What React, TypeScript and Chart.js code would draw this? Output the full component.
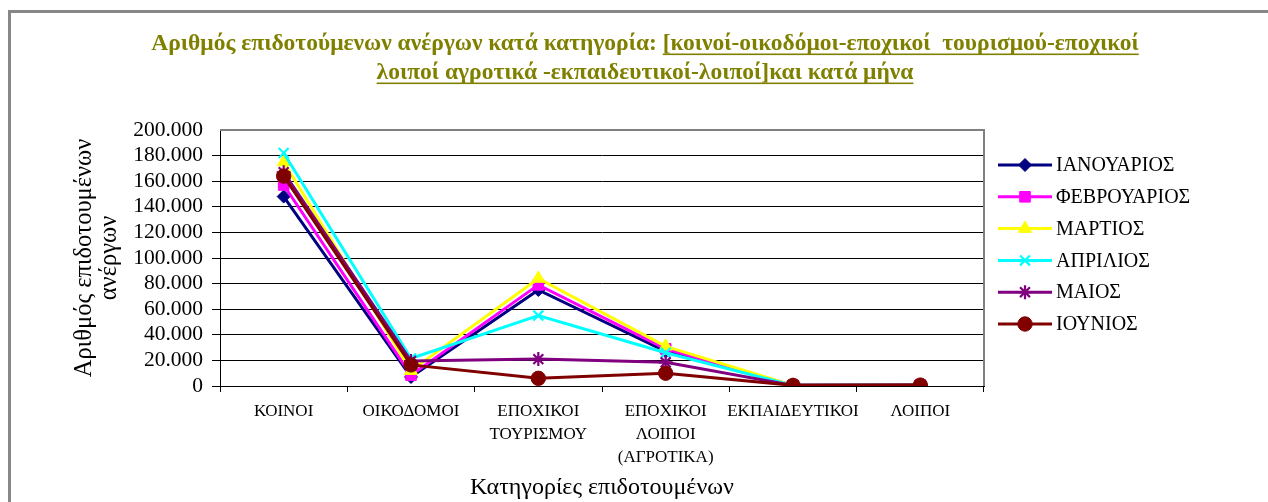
import React, { useEffect, useRef } from 'react';
import { Chart, registerables } from 'chart.js';
import { drawPoint } from 'chart.js/helpers';

Chart.register(...registerables);

// ---------- data ----------
const categories: string[][] = [
  ['ΚΟΙΝΟΙ'],
  ['ΟΙΚΟΔΟΜΟΙ'],
  ['ΕΠΟΧΙΚΟΙ', 'ΤΟΥΡΙΣΜΟΥ'],
  ['ΕΠΟΧΙΚΟΙ', 'ΛΟΙΠΟΙ', '(ΑΓΡΟΤΙΚΑ)'],
  ['ΕΚΠΑΙΔΕΥΤΙΚΟΙ'],
  ['ΛΟΙΠΟΙ'],
];
const seriesNames = ['ΙΑΝΟΥΑΡΙΟΣ', 'ΦΕΒΡΟΥΑΡΙΟΣ', 'ΜΑΡΤΙΟΣ', 'ΑΠΡΙΛΙΟΣ', 'ΜΑΙΟΣ', 'ΙΟΥΝΙΟΣ'];
const january = [148000, 7000, 75000, 27000, 500, 700];
const february = [157000, 8500, 79000, 29000, 500, 700];
const march = [175000, 12000, 84000, 31000, 500, 700];
const april = [182000, 21500, 55000, 26000, 500, 700];
const may = [167000, 19500, 21000, 18500, 500, 700];
const june = [164000, 16500, 6000, 10000, 500, 700];
const yMin = 0;
const yMax = 200000;
const yStep = 20000;

const titleLine1Plain = 'Αριθμός επιδοτούμενων ανέργων κατά κατηγορία: ';
const titleLine1Underlined = '[κοινοί-οικοδόμοι-εποχικοί  τουρισμού-εποχικοί';
const titleLine2Underlined = 'λοιποί αγροτικά -εκπαιδευτικοί-λοιποί]και κατά μήνα';
const yAxisTitle = ['Αριθμός επιδοτουμένων', 'ανέργων'];
const xAxisTitle = 'Κατηγορίες επιδοτουμένων';

// ---------- styles ----------
const SERIF = '"Liberation Serif", "DejaVu Serif", serif';
const seriesStyles = [
  { color: '#000080', pointStyle: 'rectRot', radius: 6.5, pbw: 1 },
  { color: '#FF00FF', pointStyle: 'rect', radius: 7.5, pbw: 1 },
  { color: '#FFFF00', pointStyle: 'triangle', radius: 7.5, pbw: 1 },
  { color: '#00FFFF', pointStyle: 'crossRot', radius: 7, pbw: 2.2 },
  { color: '#800080', pointStyle: 'star', radius: 7, pbw: 2.2 },
  { color: '#800000', pointStyle: 'circle', radius: 7.2, pbw: 1 },
];
const seriesValues = [january, february, march, april, may, june];

function fmt(v: number): string {
  return String(v).replace(/\B(?=(\d{3})+(?!\d))/g, '.');
}

const decorPlugin = {
  id: 'decor',
  beforeDraw(chart: any) {
    const ctx = chart.ctx as CanvasRenderingContext2D;
    ctx.save();
    ctx.fillStyle = '#ffffff';
    ctx.fillRect(0, 0, chart.width, chart.height);
    // outer frame (left + top visible)
    ctx.fillStyle = '#878787';
    ctx.fillRect(8, 10, chart.width, 3);
    ctx.fillRect(8, 10, 3, chart.height);
    ctx.restore();
  },
  beforeDatasetsDraw(chart: any) {
    const ctx = chart.ctx as CanvasRenderingContext2D;
    const a = chart.chartArea;
    ctx.save();
    ctx.strokeStyle = '#808080';
    ctx.lineWidth = 2;
    ctx.beginPath();
    ctx.moveTo(a.left, a.top);
    ctx.lineTo(a.right, a.top);
    ctx.lineTo(a.right, a.bottom);
    ctx.stroke();
    ctx.restore();
  },
  afterDraw(chart: any) {
    const ctx = chart.ctx as CanvasRenderingContext2D;
    ctx.save();
    // ---- title ----
    ctx.font = `bold 23.5px ${SERIF}`;
    ctx.fillStyle = '#808000';
    ctx.textBaseline = 'alphabetic';
    ctx.textAlign = 'left';
    const cx = 645;
    const wA = ctx.measureText(titleLine1Plain).width;
    const wB = ctx.measureText(titleLine1Underlined).width;
    const x1 = cx - (wA + wB) / 2;
    const y1 = 50;
    ctx.fillText(titleLine1Plain, x1, y1);
    ctx.fillText(titleLine1Underlined, x1 + wA, y1);
    ctx.fillRect(x1 + wA, y1 + 3.5, wB, 1.6);
    const w2 = ctx.measureText(titleLine2Underlined).width;
    const x2 = cx - w2 / 2;
    const y2 = 79;
    ctx.fillText(titleLine2Underlined, x2, y2);
    ctx.fillRect(x2, y2 + 3.5, w2, 1.6);

    // ---- legend ----
    ctx.font = `20px ${SERIF}`;
    ctx.textBaseline = 'middle';
    seriesNames.forEach((name, i) => {
      const st = seriesStyles[i];
      const y = 165 + i * 31.8;
      ctx.strokeStyle = st.color;
      ctx.lineWidth = 3;
      ctx.beginPath();
      ctx.moveTo(998, y);
      ctx.lineTo(1052, y);
      ctx.stroke();
      ctx.fillStyle = st.color;
      ctx.lineWidth = st.pbw;
      drawPoint(ctx, { pointStyle: st.pointStyle as any, radius: st.radius, rotation: 0, borderWidth: st.pbw }, 1025, y);
      ctx.fillStyle = '#000000';
      ctx.fillText(name, 1056, y + 1);
    });
    ctx.restore();
  },
};

export default function App() {
  const ref = useRef<HTMLCanvasElement | null>(null);
  useEffect(() => {
    if (!ref.current) return;
    const chart = new Chart(ref.current, {
      type: 'line',
      data: {
        labels: categories,
        datasets: seriesNames.map((name, i) => ({
          label: name,
          data: seriesValues[i],
          borderColor: seriesStyles[i].color,
          backgroundColor: seriesStyles[i].color,
          borderWidth: 3,
          pointStyle: seriesStyles[i].pointStyle as any,
          pointRadius: seriesStyles[i].radius,
          pointBorderWidth: seriesStyles[i].pbw,
          pointBackgroundColor: seriesStyles[i].color,
          pointBorderColor: seriesStyles[i].color,
          tension: 0,
          fill: false,
          order: seriesNames.length - i,
        })),
      },
      options: {
        responsive: false,
        animation: false,
        layout: { padding: { top: 130, right: 284, bottom: 0, left: 0 } },
        plugins: {
          legend: { display: false },
          title: { display: false },
          tooltip: { enabled: false },
        },
        scales: {
          x: {
            type: 'category',
            offset: true,
            afterFit: (s: any) => { s.height = 116; },
            grid: {
              offset: true,
              drawOnChartArea: false,
              drawTicks: true,
              tickLength: 6,
              color: '#000000',
            },
            border: { display: true, color: '#000000', width: 1 },
            ticks: {
              autoSkip: false,
              maxRotation: 0,
              minRotation: 0,
              padding: 8,
              color: '#000000',
              font: { family: SERIF, size: 17, lineHeight: 23 / 17 },
            },
            title: {
              display: true,
              text: xAxisTitle,
              color: '#000000',
              font: { family: SERIF, size: 24, lineHeight: 1.15 },
              padding: { top: 0, bottom: 0 },
            },
          },
          y: {
            type: 'linear',
            min: yMin,
            max: yMax,
            afterFit: (s: any) => { s.width = 220; },
            grid: {
              drawTicks: true,
              tickLength: 8,
              color: (c: any) => (c.tick && c.tick.value === yMax ? 'rgba(0,0,0,0)' : '#000000'),
              lineWidth: 1,
            },
            border: { display: true, color: '#000000', width: 1 },
            ticks: {
              stepSize: yStep,
              autoSkip: false,
              padding: 9,
              color: '#000000',
              font: { family: SERIF, size: 21.5, lineHeight: 1 },
              callback: (v: any) => fmt(Number(v)),
            },
            title: {
              display: true,
              text: yAxisTitle,
              color: '#000000',
              font: { family: SERIF, size: 24.5, lineHeight: 25 / 24.5 },
              padding: { top: 72, bottom: 0 },
            },
          },
        },
      },
      plugins: [decorPlugin],
    });
    return () => chart.destroy();
  }, []);
  return (
    <div style={{ position: 'absolute', left: 0, top: 0, width: 1268, height: 502 }}>
      <canvas ref={ref} width={1268} height={502} style={{ display: 'block' }} />
    </div>
  );
}
